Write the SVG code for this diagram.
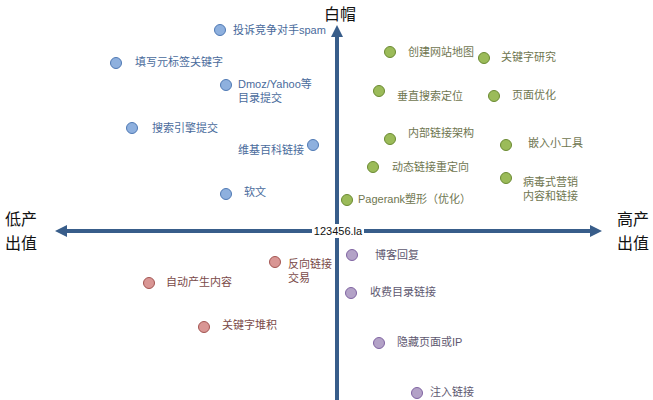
<svg xmlns="http://www.w3.org/2000/svg" width="653" height="400" viewBox="0 0 653 400">
<defs>
<marker id="ah" viewBox="0 0 10 10" refX="5" refY="5" markerWidth="3" markerHeight="3" orient="auto-start-reverse" markerUnits="strokeWidth">
<path d="M0,0 L10,5 L0,10 Z" fill="#385d8a"/>
</marker>
<style>
text{font-family:"Liberation Sans","Noto Sans CJK SC",sans-serif;}
.ax{stroke:#385d8a;stroke-width:4;fill:none;}
.big{font-size:16px;fill:#111;font-family:"Noto Sans CJK SC",sans-serif;}
.lb{font-size:11px;font-family:"Liberation Sans","Noto Sans CJK SC",sans-serif;}
.b circle{fill:#8eb0de;stroke:#4f79b4;stroke-width:1;}
.b text{fill:#4a6b9c;}
.g circle{fill:#9bbb59;stroke:#6b8a32;stroke-width:1;}
.g text{fill:#6f7650;}
.r circle{fill:#d99694;stroke:#a35552;stroke-width:1;}
.r text{fill:#7a4a48;}
.p circle{fill:#b3a2c7;stroke:#8064a2;stroke-width:1;}
.p text{fill:#5e5870;}
</style>
</defs>
<rect width="653" height="400" fill="#fff"/>
<g id="connectors">
<line class="ax" x1="337" y1="400" x2="337" y2="31" marker-end="url(#ah)"/>
<line class="ax" x1="596" y1="231" x2="61" y2="231" marker-end="url(#ah)" marker-start="url(#ah)"/>
</g>
<g id="axis-labels">
<text class="big" x="340" y="20" text-anchor="middle">白帽</text>
<text class="big" x="5" y="225">低产</text>
<text class="big" x="5" y="249">出值</text>
<text class="big" x="617" y="225">高产</text>
<text class="big" x="617" y="249">出值</text>
<rect x="312" y="224" width="52" height="14" fill="#fff"/>
<text x="338" y="235" font-size="11" text-anchor="middle" fill="#111">123456.la</text>
</g>
<g id="n1" class="b"><circle cx="220" cy="30" r="5.5"/><text class="lb" x="233" y="34">投诉竞争对手spam</text></g>
<g id="n2" class="b"><circle cx="116" cy="63" r="5.5"/><text class="lb" x="135" y="66">填写元标签关键字</text></g>
<g id="n3" class="b"><circle cx="226" cy="85" r="5.5"/><text class="lb" x="238" y="88">Dmoz/Yahoo等</text><text class="lb" x="238" y="102">目录提交</text></g>
<g id="n4" class="b"><circle cx="132" cy="128" r="5.5"/><text class="lb" x="152" y="132">搜索引擎提交</text></g>
<g id="n5" class="b"><circle cx="313" cy="145" r="5.5"/><text class="lb" x="238" y="154">维基百科链接</text></g>
<g id="n6" class="b"><circle cx="226" cy="194" r="5.5"/><text class="lb" x="244" y="196">软文</text></g>
<g id="n7" class="g"><circle cx="390" cy="52" r="5.5"/><text class="lb" x="408" y="56">创建网站地图</text></g>
<g id="n8" class="g"><circle cx="484" cy="58" r="5.5"/><text class="lb" x="501" y="61">关键字研究</text></g>
<g id="n9" class="g"><circle cx="379" cy="91" r="5.5"/><text class="lb" x="397" y="100">垂直搜索定位</text></g>
<g id="n10" class="g"><circle cx="494" cy="96" r="5.5"/><text class="lb" x="512" y="99">页面优化</text></g>
<g id="n11" class="g"><circle cx="390" cy="139" r="5.5"/><text class="lb" x="408" y="137">内部链接架构</text></g>
<g id="n12" class="g"><circle cx="506" cy="145" r="5.5"/><text class="lb" x="528" y="147">嵌入小工具</text></g>
<g id="n13" class="g"><circle cx="373" cy="167" r="5.5"/><text class="lb" x="392" y="171">动态链接重定向</text></g>
<g id="n14" class="g"><circle cx="506" cy="178" r="5.5"/><text class="lb" x="523" y="186">病毒式营销</text><text class="lb" x="523" y="200">内容和链接</text></g>
<g id="n15" class="g"><circle cx="347" cy="200" r="5.5"/><text class="lb" x="358" y="203">Pagerank塑形（优化）</text></g>
<g id="n16" class="r"><circle cx="275" cy="262" r="5.5"/><text class="lb" x="288" y="268">反向链接</text><text class="lb" x="288" y="282">交易</text></g>
<g id="n17" class="r"><circle cx="149" cy="283" r="5.5"/><text class="lb" x="166" y="286">自动产生内容</text></g>
<g id="n18" class="r"><circle cx="204" cy="327" r="5.5"/><text class="lb" x="222" y="329">关键字堆积</text></g>
<g id="n19" class="p"><circle cx="352" cy="255" r="5.5"/><text class="lb" x="375" y="259">博客回复</text></g>
<g id="n20" class="p"><circle cx="351" cy="293" r="5.5"/><text class="lb" x="370" y="296">收费目录链接</text></g>
<g id="n21" class="p"><circle cx="379" cy="343" r="5.5"/><text class="lb" x="397" y="346">隐藏页面或IP</text></g>
<g id="n22" class="p"><circle cx="417" cy="393" r="5.5"/><text class="lb" x="430" y="396">注入链接</text></g>
</svg>
